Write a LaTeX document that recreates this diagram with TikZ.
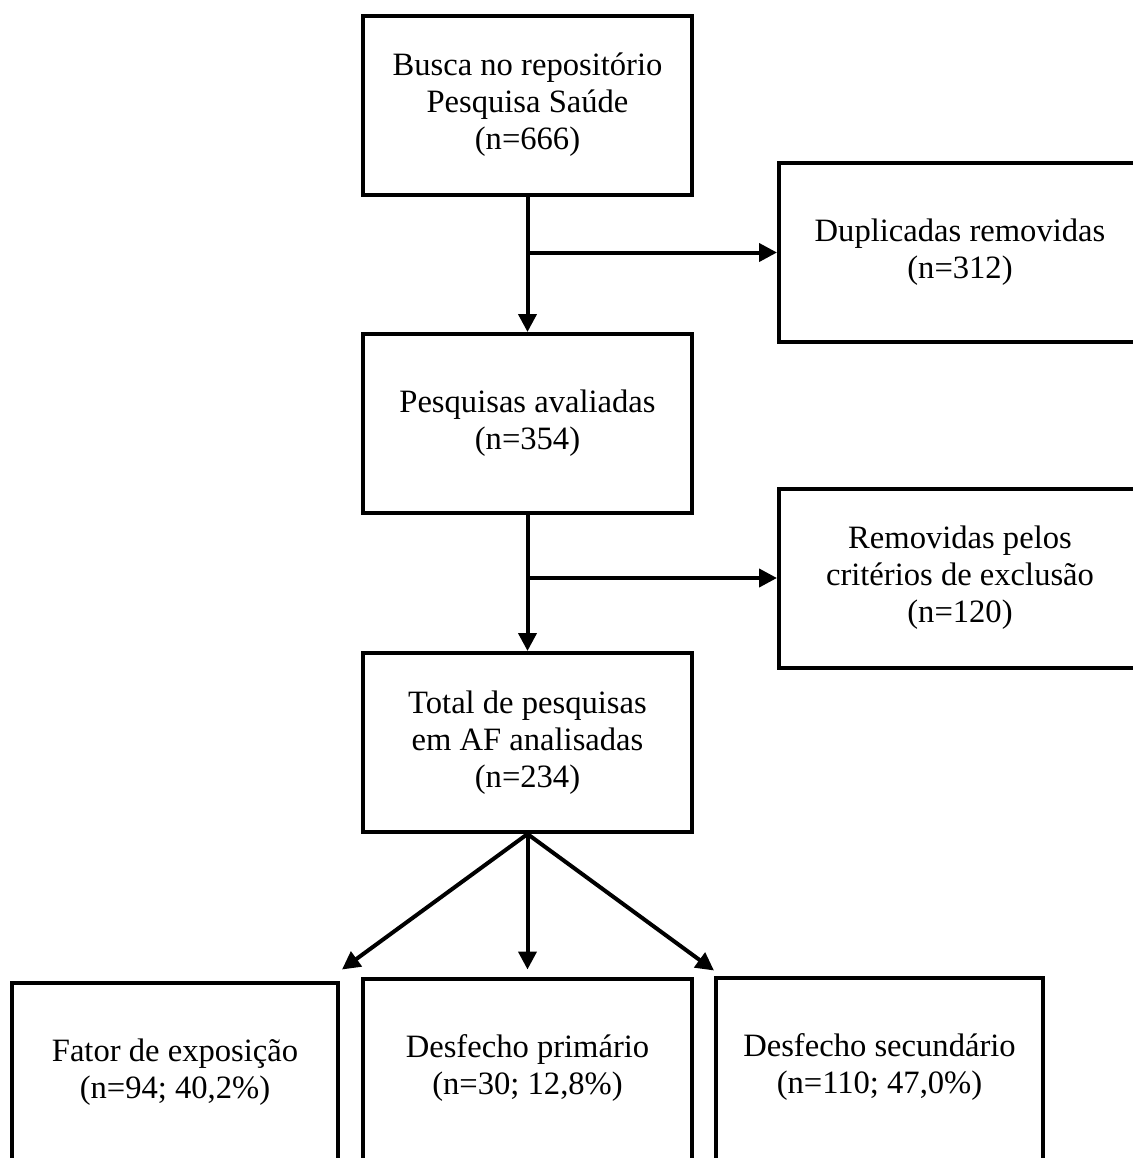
\documentclass[tikz,border=0pt]{standalone}
\usepackage{fontspec}
\setmainfont{Liberation Serif}
\usetikzlibrary{arrows.meta}

\begin{document}
\begin{tikzpicture}[x=1pt,y=1pt,line width=2pt,
    caixa/.style={draw,rectangle,align=center,inner sep=0pt,
        minimum width=164.5pt,minimum height=89.5pt,
        font=\fontsize{16.3}{18.5}\selectfont},
    lateral/.style={caixa,minimum width=181pt},
    resultado/.style={caixa,minimum height=97pt,text depth=11pt},
    seta/.style={-{Triangle[length=9pt,width=9pt]}}]
            \useasboundingbox (0,0) rectangle (566,-579);

            \node[caixa] (busca) at (263.75,-52.5) {Busca no repositório\\Pesquisa Saúde\\(n=666)};
            \node[caixa] (aval) at (263.75,-211.75) {Pesquisas avaliadas\\(n=354)};
            \node[caixa] (total) at (263.75,-371.25) {Total de pesquisas\\em AF analisadas\\(n=234)};

            \node[lateral] (dup) at (480,-126.25) {Duplicadas removidas\\(n=312)};
            \node[lateral] (rem) at (480,-289) {Removidas pelos\\critérios de exclusão\\(n=120)};

            \node[resultado,minimum width=163pt] (fator) at (87.5,-539.75) {Fator de exposição\\(n=94; 40,2\%)};
            \node[resultado] (primario) at (263.75,-537.75) {Desfecho primário\\(n=30; 12,8\%)};
            \node[resultado,minimum width=163.5pt] (secundario) at (439.75,-537.25) {Desfecho secundário\\(n=110; 47,0\%)};

            \coordinate (b1) at (busca.south |- dup.west);
            \coordinate (b2) at (aval.south |- rem.west);
            \coordinate (pfator) at ([shift={(1pt,5.5pt)}]fator.north east);
            \coordinate (pprim) at ([shift={(0pt,3.5pt)}]primario.north);
            \coordinate (psec) at ([shift={(0pt,2.5pt)}]secundario.north west);

            \draw[seta] (busca) -- (aval);
            \draw[seta] (b1) -- (dup.west);
            \draw[seta] (aval) -- (total);
            \draw[seta] (b2) -- (rem.west);

            \draw[seta] (total.south) -- (pfator);
            \draw[seta] (total.south) -- (pprim);
            \draw[seta] (total.south) -- (psec);
        \end{tikzpicture}
\end{document}
